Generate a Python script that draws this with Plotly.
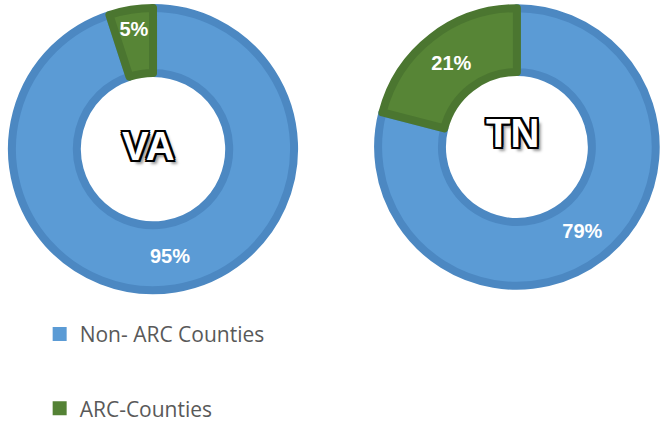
import plotly.graph_objects as go

labels = ["Non- ARC Counties", "ARC-Counties"]
va_values = [95, 5]
tn_values = [79, 21]
states = ["VA", "TN"]

fill_colors = ["#5B9BD5", "#578536"]
edge_colors = ["#4C88C2", "#4B7630"]
legend_colors = ["#5B9BD5", "#548235"]

fig = go.Figure()

domains = [
    dict(x=[0.018, 0.445], y=[0.314, 0.981]),
    dict(x=[0.572, 0.992], y=[0.324, 0.981]),
]

for vals, dom in zip([va_values, tn_values], domains):
    fig.add_trace(go.Pie(
        labels=labels, values=vals, domain=dom, hole=0.54, sort=False,
        direction="clockwise", rotation=0,
        marker=dict(colors=fill_colors, line=dict(color=edge_colors, width=8)),
        texttemplate="%{percent:.0%}", textposition="inside",
        insidetextorientation="horizontal",
        textfont=dict(family="Liberation Sans", size=20, color="white", weight="bold"),
        showlegend=False, hoverinfo="label+percent",
    ))

# legend entries
for name, col in zip(labels, legend_colors):
    fig.add_trace(go.Scatter(
        x=[None], y=[None], mode="markers", name=name, legendgroup=name,
        marker=dict(symbol="square", size=14, color=col),
    ))

outline = ("-2px -2px 0 #000, 2px -2px 0 #000, -2px 2px 0 #000, 2px 2px 0 #000, "
           "0 -2px 0 #000, 0 2px 0 #000, -2px 0 0 #000, 2px 0 0 #000, 4px 4px 3px #999")
centers = [(0.224, 0.655), (0.776, 0.686)]
for st, (cx, cy) in zip(states, centers):
    fig.add_annotation(
        x=cx, y=cy, xref="paper", yref="paper", text=st, showarrow=False,
        xanchor="center", yanchor="middle",
        font=dict(family="Liberation Sans", size=40, color="white", weight="bold", shadow=outline),
    )

fig.update_layout(
    width=661, height=423, autosize=False,
    margin=dict(l=0, r=0, t=0, b=0, autoexpand=False),
    paper_bgcolor="white", plot_bgcolor="white",
    xaxis=dict(visible=False), yaxis=dict(visible=False),
    legend=dict(
        x=0.06, y=0.258, xanchor="left", yanchor="top",
        font=dict(family="Open Sans", size=21, color="#595959"),
        tracegroupgap=44, bgcolor="rgba(0,0,0,0)",
    ),
)

fig.write_html("out.html", config={"displayModeBar": False, "responsive": False},
               post_script="document.body.style.margin='0px';")
